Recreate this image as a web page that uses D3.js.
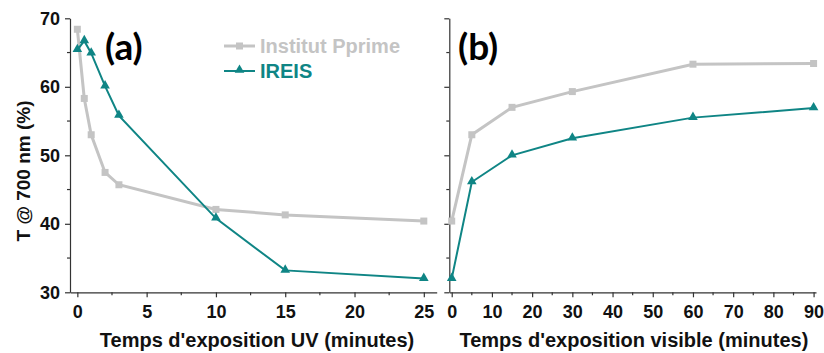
<!DOCTYPE html>
<html>
<head>
<meta charset="utf-8">
<script src="https://cdn.jsdelivr.net/npm/d3@7"></script>
<style>
  html, body { margin: 0; padding: 0; background: #fff; }
  svg { display: block; }
  .axis text { font-family: "Liberation Sans", Arial, sans-serif; font-weight: bold; font-size: 18px; fill: #111; }
  .axis path, .axis line { stroke: #333; stroke-width: 1.2; }
</style>
</head>
<body>
<svg id="chart" width="824" height="353"></svg>
<script>
// Panel (a): UV exposure
const uvTime = [0, 0.5, 1, 2, 3, 10, 15, 25];
const uvPprime = [68.4, 58.3, 53.0, 47.5, 45.7, 42.1, 41.3, 40.4];
const uvIreis = [65.4, 66.7, 64.9, 60.1, 55.8, 40.8, 33.2, 32.0];

// Panel (b): visible exposure
const visTime = [0, 5, 15, 30, 60, 90];
const visPprime = [40.4, 53.0, 57.0, 59.3, 63.3, 63.4];
const visIreis = [32.0, 46.1, 50.0, 52.5, 55.5, 56.9];

const yTicks = [30, 40, 50, 60, 70];
const uvTicks = [0, 5, 10, 15, 20, 25];
const visTicks = [0, 10, 20, 30, 40, 50, 60, 70, 80, 90];

const seriesNames = ["Institut Pprime", "IREIS"];
const grey = "#c4c4c4";
const teal = "#0f8585";

const svg = d3.select("#chart");
const y = d3.scaleLinear().domain([30, 70]).range([292.3, 18.3]);
const xa = d3.scaleLinear().domain([-0.53, 25.93]).range([70, 436.7]);
const xb = d3.scaleLinear().domain([-0.6, 90.6]).range([449.3, 816]);

function drawPanel(x, xTicks, xMinorStep, time, pprime, ireis, showYLabels, xTitle, tag, tagX) {
  const x0 = x.range()[0];
  // y axis with minor ticks
  const yAxis = d3.axisLeft(y).tickValues(yTicks).tickSize(5).tickPadding(5).tickSizeOuter(0);
  if (!showYLabels) yAxis.tickFormat("");
  const gy = svg.append("g").attr("class", "axis").attr("transform", `translate(${x0},0)`).call(yAxis);
  d3.range(35, 70, 10).forEach(v => {
    gy.append("line").attr("x1", -3).attr("x2", 0).attr("y1", y(v)).attr("y2", y(v));
  });
  // x axis with minor ticks
  const xAxis = d3.axisBottom(x).tickValues(xTicks).tickSize(5).tickPadding(5).tickSizeOuter(0);
  const gx = svg.append("g").attr("class", "axis").attr("transform", `translate(0,${y(30)})`).call(xAxis);
  const d1 = x.domain()[1];
  for (let v = 0; v <= d1; v += xMinorStep) {
    if (xTicks.includes(v)) continue;
    gx.append("line").attr("x1", x(v)).attr("x2", x(v)).attr("y1", 0).attr("y2", 3);
  }
  gx.selectAll(".tick text").attr("dy", "0.85em");

  // x title
  svg.append("text")
    .attr("x", (x(0) + x.range()[1]) / 2)
    .attr("y", 347)
    .attr("text-anchor", "middle")
    .style("font-family", "Liberation Sans, Arial, sans-serif")
    .style("font-weight", "bold")
    .style("font-size", "20px")
    .style("fill", "#111")
    .text(xTitle);

  // panel tag
  svg.append("text")
    .attr("x", tagX)
    .attr("y", 60)
    .style("font-family", "Lato, 'Open Sans', sans-serif")
    .style("font-weight", "bold")
    .style("font-size", "37px")
    .style("fill", "#000")
    .text(tag);

  const line = d3.line().x(d => x(d[0])).y(d => y(d[1]));
  const pData = time.map((t, i) => [t, pprime[i]]);
  const iData = time.map((t, i) => [t, ireis[i]]);

  svg.append("path").datum(pData).attr("d", line)
    .attr("fill", "none").attr("stroke", grey).attr("stroke-width", 3);
  svg.append("g").selectAll("rect").data(pData).join("rect")
    .attr("x", d => x(d[0]) - 3.5).attr("y", d => y(d[1]) - 3.5)
    .attr("width", 7).attr("height", 7).attr("fill", grey);

  svg.append("path").datum(iData).attr("d", line)
    .attr("fill", "none").attr("stroke", teal).attr("stroke-width", 2);
  const tri = d3.symbol().type(d3.symbolTriangle).size(40);
  svg.append("g").selectAll("path").data(iData).join("path")
    .attr("d", tri)
    .attr("transform", d => `translate(${x(d[0])},${y(d[1]) - 0.5})`)
    .attr("fill", teal);
}

drawPanel(xa, uvTicks, 2.5, uvTime, uvPprime, uvIreis, true,
  "Temps d'exposition UV (minutes)", "(a)", 105);
drawPanel(xb, visTicks, 5, visTime, visPprime, visIreis, false,
  "Temps d'exposition visible (minutes)", "(b)", 458);

// y title
svg.append("text")
  .attr("transform", "translate(30,171) rotate(-90)")
  .attr("text-anchor", "middle")
  .style("font-family", "Liberation Sans, Arial, sans-serif")
  .style("font-weight", "bold")
  .style("font-size", "19px")
  .style("fill", "#111")
  .text("T @ 700 nm (%)");

// legend
const legend = svg.append("g");
const legendItems = [
  { name: seriesNames[0], color: grey, width: 3, marker: "square", yPos: 46 },
  { name: seriesNames[1], color: teal, width: 2, marker: "triangle", yPos: 71 }
];
legendItems.forEach(it => {
  legend.append("line").attr("x1", 224).attr("x2", 255).attr("y1", it.yPos).attr("y2", it.yPos)
    .attr("stroke", it.color).attr("stroke-width", it.width);
  if (it.marker === "square") {
    legend.append("rect").attr("x", 236).attr("y", it.yPos - 3.5).attr("width", 7).attr("height", 7).attr("fill", it.color);
  } else {
    legend.append("path").attr("d", d3.symbol().type(d3.symbolTriangle).size(40)())
      .attr("transform", `translate(239.5,${it.yPos - 1})`).attr("fill", it.color);
  }
  legend.append("text").attr("x", 260).attr("y", it.yPos + 7)
    .style("font-family", "Liberation Sans, Arial, sans-serif")
    .style("font-weight", "bold")
    .style("font-size", "20px")
    .style("fill", it.color)
    .text(it.name);
});
</script>
</body>
</html>
